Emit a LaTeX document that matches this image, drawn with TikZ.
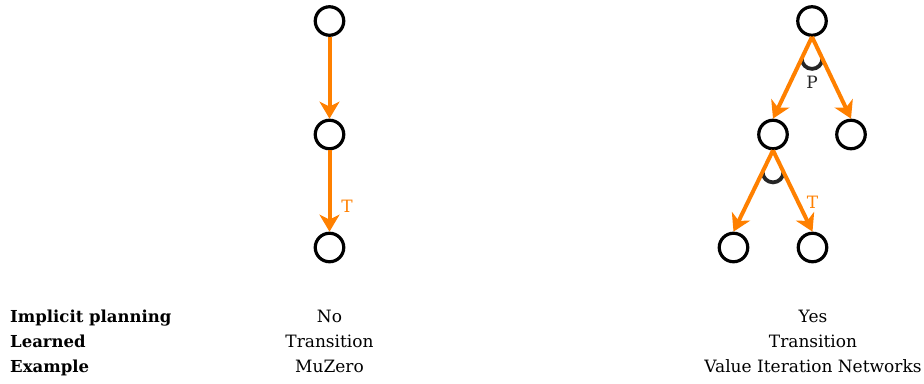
\documentclass[tikz,border=0pt]{standalone}
\usepackage{fontspec}
\setmainfont{DejaVu Serif}
\usetikzlibrary{arrows.meta,calc}
\definecolor{arrorange}{RGB}{255,128,0}
\begin{document}
\begin{tikzpicture}[x=1pt,y=-1pt,
  state/.style={circle,draw=black,line width=3.2pt,minimum size=28.5pt,inner sep=0pt},
  flow/.style={draw=arrorange,line width=4pt,-{Stealth[length=17pt,width=20pt,inset=5pt]}},
  cup/.style={draw=black!85,line width=3.8pt},
  rowhead/.style={inner sep=0pt,font=\fontsize{16.5}{20}\selectfont\bfseries,anchor=base west},
  cell/.style={inner sep=0pt,font=\fontsize{17}{20}\selectfont,anchor=base},
  edgelbl/.style={font=\fontsize{17}{20}\selectfont,inner sep=0pt,anchor=base}
]
\useasboundingbox (0,0) rectangle (924,383);
% left tree
\node[state] (a0) at (329.5,21) {};
\node[state] (a1) at (329.5,134.5) {};
\node[state] (a2) at (329.5,247.5) {};
\draw[flow] (a0.south) -- (a1.north);
\draw[flow] (a1.south) -- (a2.north);
\node[edgelbl,text=arrorange] (ta) at (347,212) {T};
% right tree
\node[state] (r) at (812,21) {};
\node[state] (c1) at (773,134.5) {};
\node[state] (c2) at (851,134.5) {};
\node[state] (g1) at (733.5,247.5) {};
\node[state] (g2) at (812.5,247.5) {};
\coordinate (p1) at ($(r.south)!0.265!(c1.north)$);
\coordinate (p2) at ($(r.south)!0.265!(c2.north)$);
\coordinate (q1) at ($(c1.south)!0.265!(g1.north)$);
\coordinate (q2) at ($(c1.south)!0.265!(g2.north)$);
\draw[cup] let \p1=(p1), \p2=(p2), \n1={(\x2-\x1)/2} in (p1) arc[start angle=180,end angle=360,radius=\n1];
\draw[cup] let \p1=(q1), \p2=(q2), \n1={(\x2-\x1)/2} in (q1) arc[start angle=180,end angle=360,radius=\n1];
\draw[flow] (r.south) -- (c1.north);
\draw[flow] (r.south) -- (c2.north);
\draw[flow] (c1.south) -- (g1.north);
\draw[flow] (c1.south) -- (g2.north);
\node[edgelbl,text=black!85] (pl) at (812,88) {P};
\node[edgelbl,text=arrorange] (tb) at (812.5,208) {T};
% table
\node[rowhead] (h1) at (10,322) {Implicit planning};
\node[rowhead] (h2) at (10,347) {Learned};
\node[rowhead] (h3) at (10,372) {Example};
\node[cell] (m1) at (329.5,322) {No};
\node[cell] (m2) at (329.5,347) {Transition};
\node[cell] (m3) at (329.5,372) {MuZero};
\node[cell] (n1) at (813,322) {Yes};
\node[cell] (n2) at (813,347) {Transition};
\node[cell] (n3) at (813,372) {Value Iteration Networks};
\end{tikzpicture}
\end{document}
